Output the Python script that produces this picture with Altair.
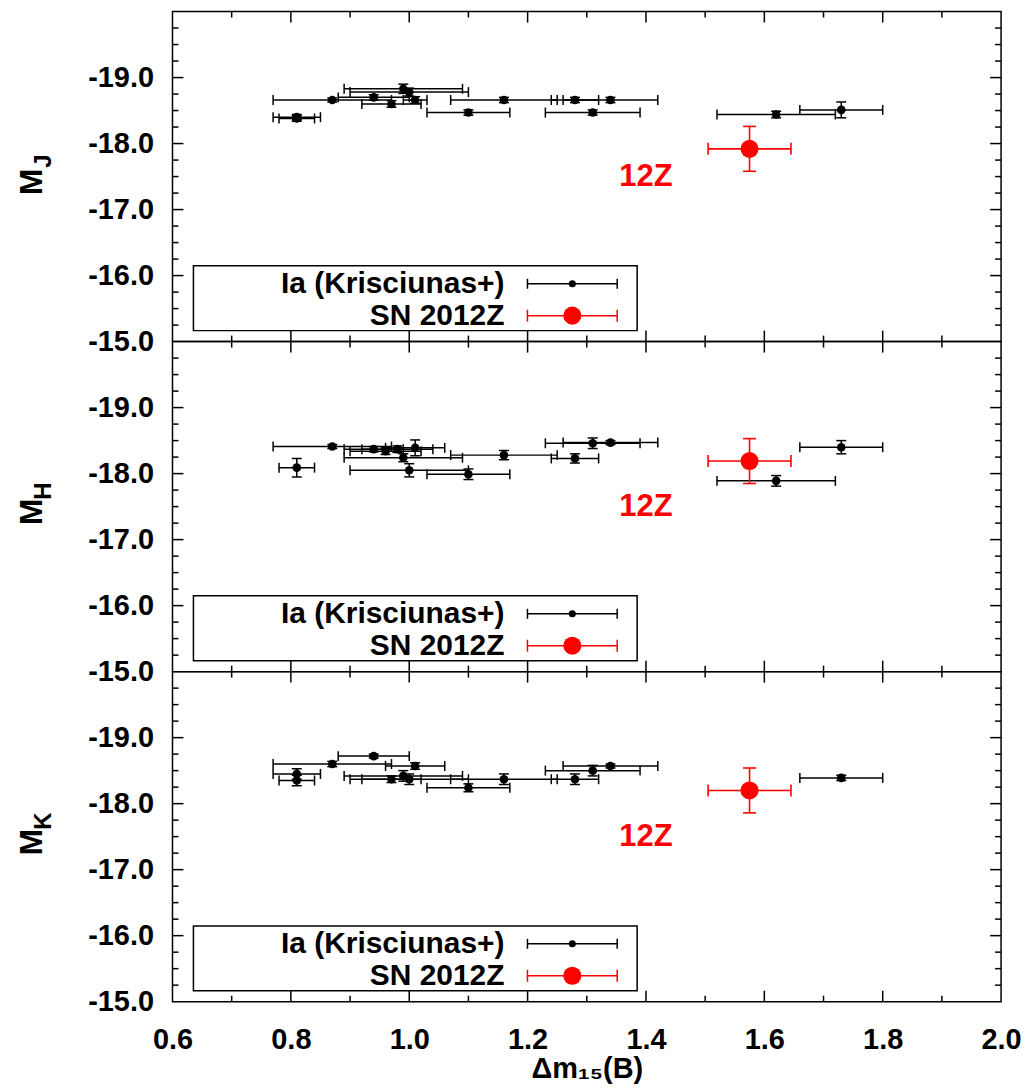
import altair as alt
import pandas as pd

# ---------------- data ----------------
X_TICKS = [0.6, 0.8, 1.0, 1.2, 1.4, 1.6, 1.8, 2.0]
X_MINOR = [0.7, 0.9, 1.1, 1.3, 1.5, 1.7, 1.9]
Y_TICKS = [-15, -16, -17, -18, -19]
Y_MAJOR_INNER = [-16, -17, -18, -19]
Y_MINOR = [-15.25, -15.5, -15.75, -16.25, -16.5, -16.75, -17.25, -17.5, -17.75,
           -18.25, -18.5, -18.75, -19.25, -19.5, -19.75]

ia_x_J = [0.81, 0.81, 0.87, 0.94, 0.97, 0.99, 1.00, 1.01, 1.10, 1.16, 1.28, 1.31, 1.34, 1.62, 1.73]
ia_y_J = [-18.40, -18.38, -18.66, -18.70, -18.60, -18.83, -18.78, -18.66, -18.47, -18.66, -18.66, -18.47, -18.66, -18.44, -18.51]
ia_xerr_J = [0.04, 0.03, 0.10, 0.06, 0.05, 0.10, 0.10, 0.02, 0.07, 0.09, 0.04, 0.08, 0.08, 0.10, 0.07]
ia_yerr_J = [0.04, 0.04, 0.03, 0.04, 0.05, 0.07, 0.06, 0.05, 0.04, 0.04, 0.04, 0.04, 0.04, 0.05, 0.12]

ia_x_H = [0.81, 0.87, 0.94, 0.96, 0.98, 0.99, 1.01, 1.00, 1.10, 1.16, 1.28, 1.31, 1.34, 1.62, 1.73]
ia_y_H = [-18.09, -18.41, -18.37, -18.34, -18.37, -18.24, -18.39, -18.05, -17.99, -18.28, -18.23, -18.46, -18.47, -17.89, -18.40]
ia_xerr_H = [0.03, 0.10, 0.05, 0.06, 0.06, 0.10, 0.05, 0.10, 0.07, 0.09, 0.04, 0.08, 0.08, 0.10, 0.07]
ia_yerr_H = [0.14, 0.03, 0.04, 0.05, 0.05, 0.06, 0.12, 0.10, 0.08, 0.07, 0.07, 0.08, 0.03, 0.08, 0.10]

ia_x_K = [0.81, 0.81, 0.87, 0.94, 0.97, 0.99, 1.01, 1.00, 1.10, 1.16, 1.28, 1.31, 1.34, 1.73]
ia_y_K = [-18.45, -18.35, -18.60, -18.72, -18.37, -18.42, -18.57, -18.37, -18.24, -18.37, -18.37, -18.50, -18.57, -18.39]
ia_xerr_K = [0.04, 0.03, 0.10, 0.06, 0.05, 0.10, 0.05, 0.10, 0.07, 0.09, 0.04, 0.08, 0.08, 0.07]
ia_yerr_K = [0.08, 0.08, 0.04, 0.03, 0.05, 0.08, 0.05, 0.08, 0.06, 0.08, 0.08, 0.08, 0.03, 0.04]

sn_x = [1.575]
sn_xerr = [0.07]
sn_y_J = [-17.92]
sn_y_H = [-18.19]
sn_y_K = [-18.20]
sn_yerr = [0.34]

label_12z = ["12Z"]
label_12z_x = [1.40]
label_12z_y = [-17.50]

legend_labels = ["Ia (Krisciunas+)", "SN 2012Z"]
x_title = "Δm₁₅(B)"

# ---------------- layout ----------------
W, H = 831, 331
FONT = "Liberation Sans"
RED = "#ff0000"

xscale = alt.Scale(domain=[0.6, 2.0], nice=False, zero=False)
yscale = alt.Scale(domain=[-20, -15], reverse=True, nice=False, zero=False)

yaxis = alt.Axis(values=Y_TICKS, labelExpr="'-' + format(abs(datum.value), '.1f')",
                 title=None, ticks=False, domain=False, grid=False,
                 labelFont=FONT, labelFontWeight="bold", labelFontSize=29,
                 labelColor="black", labelPadding=19, labelFlush=False, labelOverlap=False)


def make_xaxis(show):
    if not show:
        return None
    return alt.Axis(values=X_TICKS, format=".1f", title=x_title, ticks=False, domain=False,
                    grid=False, labelFont=FONT, labelFontWeight="bold", labelFontSize=29,
                    labelColor="black", labelPadding=24, labelFlush=False, labelOverlap=False,
                    titleFont=FONT, titleFontWeight="bold", titleFontSize=29, titleColor="black",
                    titlePadding=0)


def panel(sub, ix, iy, ixe, iye, sy, show_x):
    xaxis = make_xaxis(show_x)

    def X(f):
        return alt.X(f, type="quantitative", scale=xscale, axis=xaxis)

    def Y(f):
        return alt.Y(f, type="quantitative", scale=yscale, axis=yaxis)

    ia = pd.DataFrame({"x": ix, "y": iy, "xe": ixe, "ye": iye})
    ia["xlo"] = ia.x - ia.xe
    ia["xhi"] = ia.x + ia.xe
    ia["ylo"] = ia.y - ia.ye
    ia["yhi"] = ia.y + ia.ye
    sn = pd.DataFrame({"x": sn_x, "y": sy, "xe": sn_xerr, "ye": sn_yerr})
    sn["xlo"] = sn.x - sn.xe
    sn["xhi"] = sn.x + sn.xe
    sn["ylo"] = sn.y - sn.ye
    sn["yhi"] = sn.y + sn.ye

    layers = []

    # inward ticks on all four sides
    xt = pd.DataFrame({"v": X_TICKS[1:-1]})
    xm = pd.DataFrame({"v": X_MINOR})
    yt = pd.DataFrame({"v": Y_MAJOR_INNER})
    ym = pd.DataFrame({"v": Y_MINOR})
    for df, ln in ((xt, 11), (xm, 6)):
        c = alt.Chart(df).mark_rule(color="black", strokeWidth=1.5)
        layers.append(c.encode(x=X("v"), y=alt.value(H), y2=alt.value(H - ln)))
        layers.append(c.encode(x=X("v"), y=alt.value(0), y2=alt.value(ln)))
    for df, ln in ((yt, 11), (ym, 6)):
        c = alt.Chart(df).mark_rule(color="black", strokeWidth=1.5)
        layers.append(c.encode(y=Y("v"), x=alt.value(0), x2=alt.value(ln)))
        layers.append(c.encode(y=Y("v"), x=alt.value(W), x2=alt.value(W - ln)))

    def errs(df, color, sw, xcap, ycap, size):
        b = alt.Chart(df)
        out = [
            b.mark_rule(color=color, strokeWidth=sw).encode(x=X("xlo"), x2="xhi", y=Y("y")),
            b.mark_rule(color=color, strokeWidth=sw).encode(x=X("x"), y=Y("ylo"), y2="yhi"),
            b.mark_tick(orient="vertical", size=xcap, thickness=sw, color=color, opacity=1).encode(x=X("xlo"), y=Y("y")),
            b.mark_tick(orient="vertical", size=xcap, thickness=sw, color=color, opacity=1).encode(x=X("xhi"), y=Y("y")),
            b.mark_tick(orient="horizontal", size=ycap, thickness=sw, color=color, opacity=1).encode(x=X("x"), y=Y("ylo")),
            b.mark_tick(orient="horizontal", size=ycap, thickness=sw, color=color, opacity=1).encode(x=X("x"), y=Y("yhi")),
            b.mark_circle(color=color, size=size, opacity=1).encode(x=X("x"), y=Y("y")),
        ]
        return out

    layers += errs(ia, "black", 1.5, 10, 10, 75)
    layers += errs(sn, RED, 1.6, 12, 13, 330)

    lab = pd.DataFrame({"t": label_12z, "x": label_12z_x, "y": label_12z_y})
    layers.append(alt.Chart(lab).mark_text(color=RED, font=FONT, fontWeight="bold", fontSize=31,
                                            align="center", baseline="middle").encode(
        x=X("x"), y=Y("y"), text="t:N"))

    # legend box
    one = pd.DataFrame({"k": [0]})
    layers.append(alt.Chart(one).mark_rect(fill="white", stroke="black", strokeWidth=1.5).encode(
        x=alt.value(21), x2=alt.value(466), y=alt.value(255), y2=alt.value(320)))
    for i, (lbl, col, cap, sz) in enumerate(zip(legend_labels, ["black", RED], [10, 12], [50, 330])):
        yy = 273 + i * 32
        layers.append(alt.Chart(one).mark_text(font=FONT, fontWeight="bold", fontSize=30, align="right",
                                                baseline="middle", color="black").encode(
            x=alt.value(333), y=alt.value(yy), text=alt.value(lbl)))
        layers.append(alt.Chart(one).mark_rule(color=col, strokeWidth=1.5).encode(
            x=alt.value(356), x2=alt.value(446), y=alt.value(yy)))
        for xx in (356, 446):
            layers.append(alt.Chart(one).mark_rule(color=col, strokeWidth=1.5).encode(
                x=alt.value(xx), y=alt.value(yy - cap / 2), y2=alt.value(yy + cap / 2)))
        layers.append(alt.Chart(one).mark_circle(color=col, size=sz, opacity=1).encode(
            x=alt.value(401), y=alt.value(yy)))

    # y title: M with subscript
    layers.append(alt.Chart(one).mark_text(font=FONT, fontWeight="bold", fontSize=32, angle=270,
                                            align="center", baseline="middle", color="black").encode(
        x=alt.value(-141), y=alt.value(171), text=alt.value("M")))
    layers.append(alt.Chart(one).mark_text(font=FONT, fontWeight="bold", fontSize=24, angle=270,
                                            align="center", baseline="middle", color="black").encode(
        x=alt.value(-129), y=alt.value(150), text=alt.value(sub)))

    return alt.layer(*layers).properties(width=W, height=H)


p1 = panel("J", ia_x_J, ia_y_J, ia_xerr_J, ia_yerr_J, sn_y_J, False)
p2 = panel("H", ia_x_H, ia_y_H, ia_xerr_H, ia_yerr_H, sn_y_H, False)
p3 = panel("K", ia_x_K, ia_y_K, ia_xerr_K, ia_yerr_K, sn_y_K, True)

chart = alt.vconcat(p1, p2, p3, spacing=0, bounds="flush").properties(
    padding={"left": 15, "top": 8, "right": 5, "bottom": 2},
    background="white",
).configure_view(stroke="black", strokeWidth=1.5)

chart.save("out.html", embed_options={"renderer": "svg", "actions": False})
